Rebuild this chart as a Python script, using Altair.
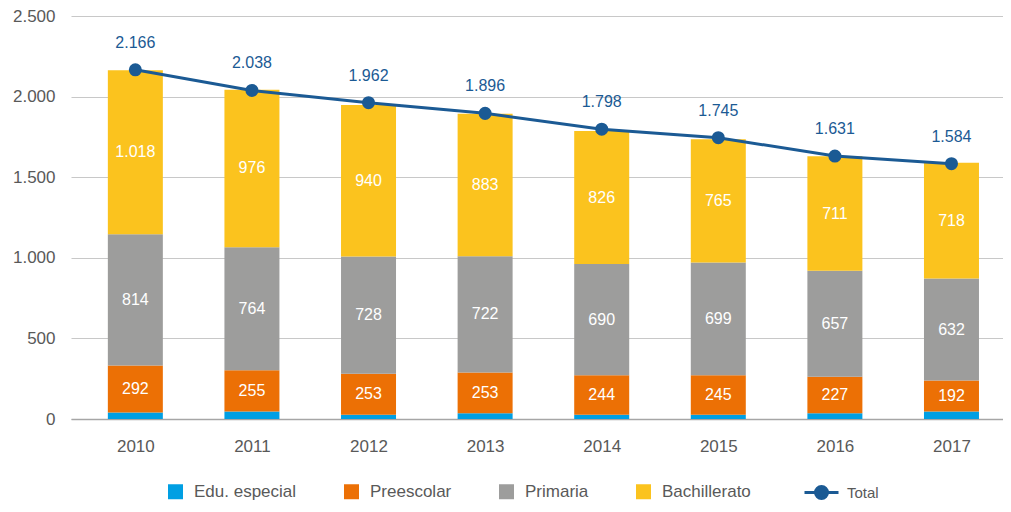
import altair as alt
import pandas as pd

years = [2010, 2011, 2012, 2013, 2014, 2015, 2016, 2017]
series = ["Edu. especial", "Preescolar", "Primaria", "Bachillerato"]
edu = [40, 47, 27, 35, 27, 27, 35, 47]
pre = [292, 255, 253, 253, 244, 245, 227, 192]
pri = [814, 764, 728, 722, 690, 699, 657, 632]
bach = [1018, 976, 940, 883, 826, 765, 711, 718]
total = [2166, 2038, 1962, 1896, 1798, 1745, 1631, 1584]
colors = ["#009FE3", "#EC7005", "#9D9D9C", "#FBC31E"]
line_color = "#1B5A94"
FONT = "Liberation Sans"

rows = []
for vals, name, k in zip([edu, pre, pri, bach], series, range(4)):
    for y, v in zip(years, vals):
        rows.append({"year": y, "serie": name, "value": v, "ord": k})
bars_df = pd.DataFrame(rows)
tot_df = pd.DataFrame({"year": years, "total": total, "serie": ["Total"] * len(years)})

xscale = alt.Scale(domain=[2009.491, 2017.399], nice=False, zero=False)
yscale = alt.Scale(domain=[0, 2500], nice=False)

xaxis = alt.Axis(values=years, format="d", title=None, ticks=False, grid=False,
                 labelFontSize=17, labelColor="#595959", labelPadding=19,
                 domainColor="#A6A6A6", domainWidth=1.5, labelFont=FONT)
yaxis = alt.Axis(values=[0, 500, 1000, 1500, 2000, 2500], format=",d", title=None,
                 ticks=False, domain=False, labelFontSize=17, labelColor="#595959",
                 labelPadding=16, gridColor="#C8C8C8", gridWidth=1.2, labelFont=FONT)

bars = alt.Chart(bars_df).mark_bar(size=55).encode(
    x=alt.X("year:Q", scale=xscale, axis=xaxis),
    y=alt.Y("sum(value):Q", scale=yscale, axis=yaxis, stack="zero"),
    fill=alt.Fill("serie:N", scale=alt.Scale(domain=series, range=colors),
                  legend=alt.Legend(title=None, orient="none", legendX=96, legendY=467,
                                    direction="horizontal", symbolType="square",
                                    symbolSize=225, symbolStrokeWidth=0,
                                    labelFontSize=17, labelColor="#595959", labelFont=FONT,
                                    labelOffset=10, columnPadding=46)),
    order=alt.Order("ord:Q", sort="ascending"),
)

labels = alt.Chart(bars_df).transform_stack(
    stack="value", groupby=["year"], as_=["y0", "y1"],
    sort=[alt.SortField("ord", order="ascending")]
).transform_calculate(
    mid="(datum.y0 + datum.y1) / 2"
).transform_filter(
    alt.datum.ord > 0
).mark_text(color="white", fontSize=16, font=FONT, baseline="middle").encode(
    x=alt.X("year:Q", scale=xscale),
    y=alt.Y("mid:Q", scale=yscale),
    text=alt.Text("value:Q", format=",d"),
)

line = alt.Chart(tot_df).mark_line(strokeWidth=3).encode(
    x=alt.X("year:Q", scale=xscale),
    y=alt.Y("total:Q", scale=yscale),
    stroke=alt.Stroke("serie:N", scale=alt.Scale(domain=["Total"], range=[line_color]),
                      legend=alt.Legend(title=None, orient="none", legendX=732, legendY=458,
                                        symbolType="M-1,0L1,0M-0.353,0A0.353,0.353,0,1,1,0.353,0A0.353,0.353,0,1,1,-0.353,0Z",
                                        symbolSize=1156, symbolStrokeWidth=3,
                                        symbolFillColor=line_color, symbolStrokeColor=line_color,
                                        labelFontSize=15, labelColor="#595959", labelFont=FONT,
                                        labelOffset=7)),
)

points = alt.Chart(tot_df).mark_point(filled=True, size=170, opacity=1, color=line_color).encode(
    x=alt.X("year:Q", scale=xscale),
    y=alt.Y("total:Q", scale=yscale),
)

tot_labels = alt.Chart(tot_df).mark_text(color=line_color, fontSize=16, font=FONT, dy=-27).encode(
    x=alt.X("year:Q", scale=xscale),
    y=alt.Y("total:Q", scale=yscale),
    text=alt.Text("total:Q", format=",d"),
)

chart = alt.layer(bars, labels, line, points, tot_labels).properties(
    width=932, height=403,
    autosize=alt.AutoSizeParams(type="none"),
    padding={"left": 63, "top": 8, "right": 0, "bottom": 85},
).configure_view(stroke=None).resolve_scale(fill="independent", stroke="independent")

chart.save("out.html", embed_options={
    "renderer": "svg", "actions": False,
    "formatLocale": {"decimal": ",", "thousands": ".", "grouping": [3], "currency": ["", "€"]},
})
